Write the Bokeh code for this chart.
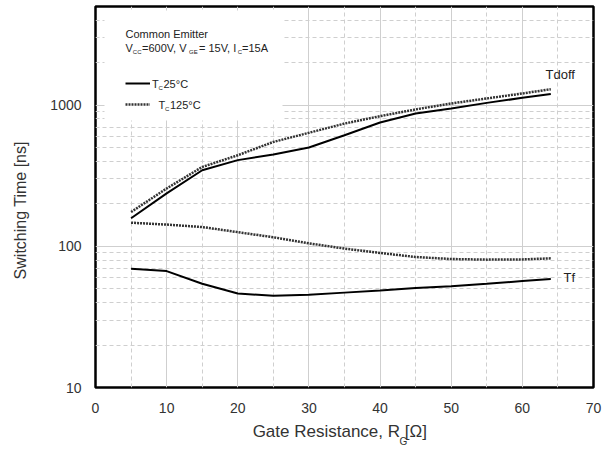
import math
from bokeh.plotting import figure
from bokeh.models import (FixedTicker, Label, BoxAnnotation, Legend, LegendItem, Range1d,
                          LinearAxis, CustomJSTickFormatter)
from bokeh.embed import file_html
from bokeh.resources import INLINE

# ---- data ----
rg = [5, 10, 15, 20, 25, 30, 35, 40, 45, 50, 55, 60, 64]
tdoff_25 = [158, 237, 346, 408, 447, 501, 612, 753, 873, 948, 1038, 1127, 1202]
tdoff_125 = [175, 257, 365, 442, 549, 637, 741, 836, 933, 1028, 1116, 1210, 1297]
tf_25 = [69.5, 66.8, 54.3, 46.3, 44.7, 45.4, 47.0, 48.7, 50.6, 52.2, 54.3, 56.7, 58.6]
tf_125 = [147, 142.6, 137, 126, 116, 105, 96.4, 89.8, 84.0, 81.3, 80.5, 80.8, 82.2]

x_ticks = [0, 10, 20, 30, 40, 50, 60, 70]
x_minor = [5, 15, 25, 35, 45, 55, 65]
y_ticks = [10, 100, 1000]
y_minor = [20, 30, 40, 50, 60, 70, 80, 90, 200, 300, 400, 500, 600, 700, 800, 900,
           2000, 3000, 4000]

FONT = "Liberation Sans"
W, H = 613, 449
L, R, T, B = 95, 20, 6, 62
X0, X1 = 0, 70
Y0, Y1 = 10, 5000

p = figure(width=W, height=H, y_axis_type="log",
           x_range=Range1d(X0, X1), y_range=Range1d(Y0, Y1),
           output_backend="svg", toolbar_location=None,
           min_border_left=L, min_border_right=R, min_border_top=T, min_border_bottom=B)
p.background_fill_color = "white"
p.border_fill_color = "white"
p.outline_line_color = "black"
p.outline_line_width = 2.5

# pixel -> data helpers for annotation placement inside the frame
fw = W - L - R
fh = H - T - B
def dx(px):
    return X0 + (px - L) / fw * (X1 - X0)
def dy(py):
    lo, hi = math.log10(Y0), math.log10(Y1)
    return 10 ** (lo + (H - B - py) / fh * (hi - lo))

# axes
xa = p.xaxis[0]
ya = p.yaxis[0]
xa.ticker = FixedTicker(ticks=x_ticks, minor_ticks=x_minor)
ya.ticker = FixedTicker(ticks=y_ticks, minor_ticks=y_minor)
xa.major_label_overrides = {t: str(t) for t in x_ticks}
ya.major_label_overrides = {t: str(t) for t in y_ticks}
for ax in (xa, ya):
    ax.axis_line_color = None
    ax.major_tick_line_color = None
    ax.minor_tick_line_color = None
    ax.major_label_text_font = FONT
    ax.major_label_text_font_size = "14px"
    ax.major_label_text_color = "#333333"
    ax.axis_label_text_font = FONT
    ax.axis_label_text_font_style = "normal"
    ax.axis_label_text_color = "#333333"
xa.major_label_standoff = 9
ya.major_label_standoff = 8
ya.axis_label = "      Switching Time [ns]"
ya.axis_label_text_font_size = "16px"
ya.axis_label_standoff = 18
xa.axis_label = "Gate Resistance, R   [Ω]"
xa.axis_label_text_font_size = "17px"
xa.axis_label_standoff = 6

# subscript "G" of the x-axis title, drawn as the single label of a second bottom axis
g_axis = LinearAxis(ticker=FixedTicker(ticks=[dx(403)]),
                    formatter=CustomJSTickFormatter(code="return 'G'"),
                    axis_line_color=None, major_tick_line_color=None,
                    minor_tick_line_color=None, major_label_standoff=-14,
                    major_label_text_font=FONT, major_label_text_font_size="10px",
                    major_label_text_color="#333333")
p.add_layout(g_axis, "below")

# grids
for g in (p.xgrid, p.ygrid):
    g.grid_line_color = "#cfcfcf"
    g.grid_line_width = 1
    g.minor_grid_line_color = "#cfcfcf"
    g.minor_grid_line_dash = "4 3"
    g.minor_grid_line_width = 1
p.xgrid.ticker = FixedTicker(ticks=x_ticks, minor_ticks=x_minor)
p.ygrid.ticker = FixedTicker(ticks=y_ticks, minor_ticks=y_minor)

# curves
r25 = p.line(rg, tdoff_25, line_color="black", line_width=2)
p.line(rg, tf_25, line_color="black", line_width=2)
r125 = p.line(rg, tdoff_125, line_color="#333333", line_width=2.5, line_dash="2 1")
p.line(rg, tf_125, line_color="#333333", line_width=2.5, line_dash="2 1")

# white panel behind the legend text
p.add_layout(BoxAnnotation(left=dx(104), right=dx(282), top=dy(10), bottom=dy(120),
                           fill_color="white", fill_alpha=1, line_color=None))

# legend swatches
legend = Legend(items=[LegendItem(label=" ", renderers=[r25]),
                       LegendItem(label=" ", renderers=[r125])],
                location=(125 - L, (H - B) - 114), padding=0, margin=0, spacing=1,
                glyph_width=25, glyph_height=20, label_height=20, label_width=5,
                label_standoff=0, background_fill_alpha=0, border_line_alpha=0,
                label_text_font_size="1px")
p.add_layout(legend)

def lab(txt, px, py, size, align="left", color="#222222"):
    p.add_layout(Label(x=dx(px), y=dy(py), text=txt, text_font=FONT,
                       text_font_size=f"{size}px", text_align=align,
                       text_baseline="middle", text_color=color))

# legend / condition text
lab("Common Emitter", 125, 33, 11)
lab("V", 125, 47, 11)
lab("CC", 132.3, 51, 6)
lab("=600V, V", 141.5, 47, 11)
lab("GE", 188.5, 51, 6)
lab("= 15V, I", 198.5, 47, 11)
lab("C", 237.2, 51, 6)
lab("=15A", 241.5, 47, 11)
lab("T", 151.5, 83, 11)
lab("C", 158, 87.5, 6)
lab("25°C", 163, 83, 11)
lab("T", 158, 104, 11)
lab("C", 164.5, 108.5, 6)
lab("125°C", 169.5, 104, 11)

# curve names
lab("Tdoff", 545, 74, 13)
lab("Tf", 563, 277, 13)

open("out.html", "w").write(file_html(p, INLINE))
